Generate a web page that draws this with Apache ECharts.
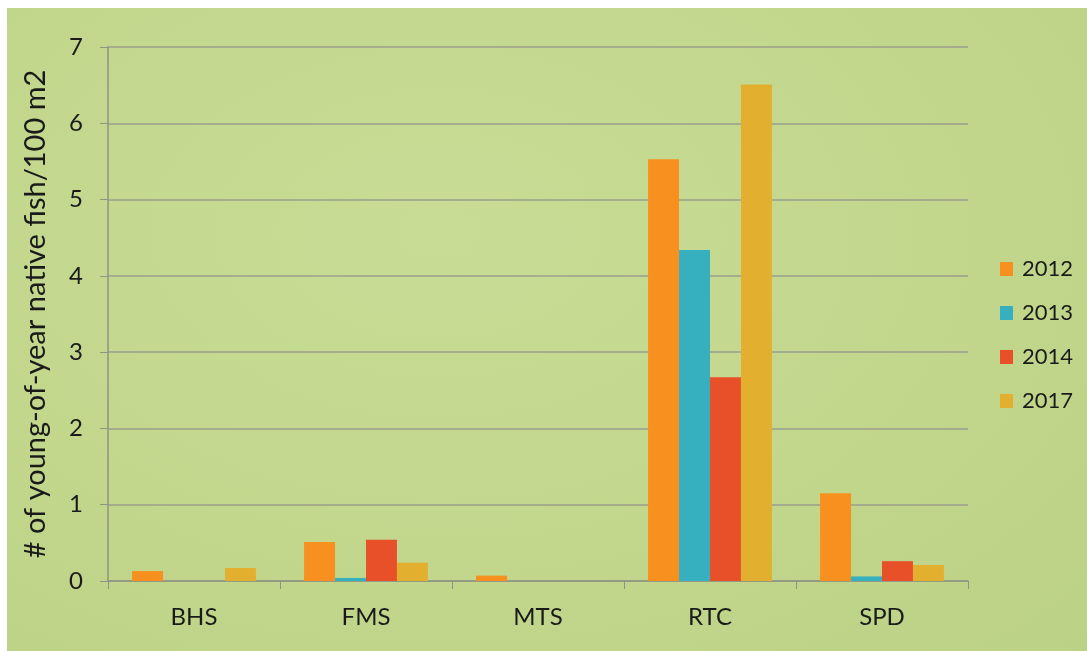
<!DOCTYPE html>
<html>
<head>
<meta charset="utf-8">
<style>
html,body{margin:0;padding:0;background:#ffffff;}
#wrap{position:absolute;left:7px;top:8px;width:1080px;height:643px;
background:radial-gradient(ellipse at 40% 35%, #c8dc95 0%, #c2d78c 55%, #bbd185 100%);}
#chart{position:absolute;left:0;top:0;width:1087px;height:651px;}
</style>
<script src="https://cdn.jsdelivr.net/npm/echarts@6/dist/echarts.min.js"></script>
</head>
<body>
<div id="wrap"></div>
<div id="chart"></div>
<script>
const categories = ['BHS', 'FMS', 'MTS', 'RTC', 'SPD'];
const years = ['2012', '2013', '2014', '2017'];
const v2012 = [0.13, 0.51, 0.07, 5.53, 1.15];
const v2013 = [0, 0.04, 0, 4.34, 0.06];
const v2014 = [0, 0.54, 0, 2.67, 0.26];
const v2017 = [0.17, 0.24, 0, 6.51, 0.21];
const yTicks = [0, 1, 2, 3, 4, 5, 6, 7];
const colors = ['#f7901e', '#36afbf', '#e8502a', '#e2b02e'];
const allValues = [v2012, v2013, v2014, v2017];

const font = 'Lato, "Open Sans", "Liberation Sans", sans-serif';
const chart = echarts.init(document.getElementById('chart'), null, {renderer: 'canvas'});
chart.setOption({
  backgroundColor: 'transparent',
  animation: false,
  color: colors,
  grid: {left: 108, right: 119, top: 47, bottom: 70, containLabel: false},
  legend: {
    orient: 'vertical', left: 1000, top: 258, padding: 0,
    itemWidth: 13, itemHeight: 14, itemGap: 22,
    icon: 'rect',
    textStyle: {fontFamily: font, fontSize: 22, lineHeight: 22, color: '#1a1a1a', padding: [0, 0, 0, 4]},
    data: years
  },
  xAxis: {
    type: 'category', data: categories,
    axisLine: {lineStyle: {color: '#8e9484', width: 1.5}},
    axisTick: {show: true, length: 8, alignWithLabel: false, lineStyle: {color: '#8e9484'}},
    axisLabel: {fontFamily: font, fontSize: 24, color: '#1a1a1a', margin: 24}
  },
  yAxis: {
    type: 'value', min: yTicks[0], max: yTicks[yTicks.length - 1], interval: 1,
    name: '# of young-of-year native fish/100 m2',
    nameLocation: 'middle', nameGap: 58, nameRotate: 90,
    nameTextStyle: {fontFamily: font, fontSize: 29, color: '#1a1a1a'},
    axisLine: {show: true, lineStyle: {color: '#8e9484', width: 1.5}},
    axisTick: {show: true, length: 8, lineStyle: {color: '#8e9484'}},
    axisLabel: {fontFamily: font, fontSize: 24, color: '#1a1a1a', margin: 25},
    splitLine: {lineStyle: {color: '#9a9e8e', width: 1.5}}
  },
  series: years.map((y, i) => ({
    name: y, type: 'bar', data: allValues[i],
    barGap: '0%', barCategoryGap: '28%',
    itemStyle: {color: colors[i]}
  }))
});
</script>
</body>
</html>
